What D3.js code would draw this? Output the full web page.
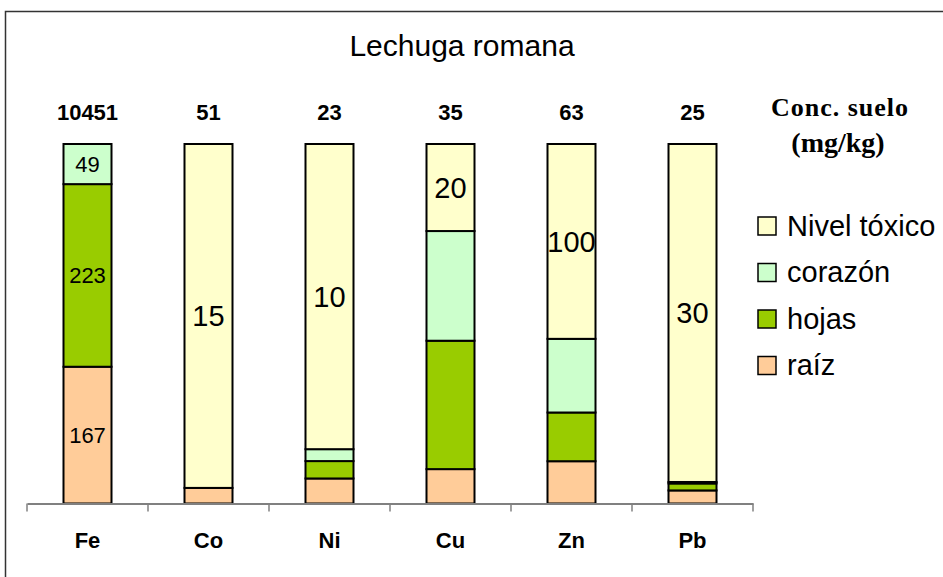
<!DOCTYPE html>
<html>
<head>
<meta charset="utf-8">
<script src="https://cdn.jsdelivr.net/npm/d3@7"></script>
<style>
  html, body { margin: 0; padding: 0; background: #fff; }
  svg { display: block; }
</style>
</head>
<body>
<svg id="chart" width="943" height="577"></svg>
<script>
// Metals analysed and their soil concentration (mg/kg)
const categories = ["Fe", "Co", "Ni", "Cu", "Zn", "Pb"];
const soilConc = [10451, 51, 23, 35, 63, 25];

// Concentration in each part of the lettuce, plus the toxic level
const raiz        = [167, 0.68, 0.82, 7.9, 21.7, 1.16];
const hojas       = [223, 0, 0.57, 29.5, 25.0, 0.62];
const corazon     = [49, 0, 0.39, 25.2, 37.8, 0.13];
const nivelToxico = [0, 15, 10, 20, 100, 30];

const seriesKeys   = ["raíz", "hojas", "corazón", "Nivel tóxico"];
const seriesColors = ["#FFCC99", "#99CC00", "#CCFFCC", "#FFFFCC"];
const legendOrder  = ["Nivel tóxico", "corazón", "hojas", "raíz"];

const rows = categories.map((c, i) => ({
  cat: c,
  "raíz": raiz[i],
  "hojas": hojas[i],
  "corazón": corazon[i],
  "Nivel tóxico": nivelToxico[i]
}));

const svg = d3.select("#chart");
const W = 943, H = 577;

// outer chart frame
svg.append("rect")
  .attr("x", 5.5).attr("y", 11.5)
  .attr("width", W + 20).attr("height", H + 20)
  .attr("fill", "#fff")
  .attr("stroke", "#333").attr("stroke-width", 1.5);

// title
svg.append("text")
  .attr("x", 462).attr("y", 56)
  .attr("text-anchor", "middle")
  .attr("font-family", "Liberation Sans, Arial, sans-serif")
  .attr("font-size", 30)
  .text("Lechuga romana");

const x = d3.scaleBand().domain(categories).range([27, 753]).paddingInner(0).paddingOuter(0);
const y = d3.scaleLinear().domain([0, 1]).range([503.5, 144]);
const color = d3.scaleOrdinal().domain(seriesKeys).range(seriesColors);

const stack = d3.stack().keys(seriesKeys).offset(d3.stackOffsetExpand);
const stacked = stack(rows);

const barW = 48;

const layers = svg.append("g").selectAll("g")
  .data(stacked).join("g")
  .attr("fill", d => color(d.key));

layers.selectAll("rect")
  .data(d => d.map(v => ({ v, key: d.key })))
  .join("rect")
  .filter(d => d.v[1] - d.v[0] > 0)
  .attr("x", d => x(d.v.data.cat) + x.bandwidth() / 2 - barW / 2)
  .attr("y", d => y(d.v[1]))
  .attr("width", barW)
  .attr("height", d => y(d.v[0]) - y(d.v[1]))
  .attr("stroke", "#000")
  .attr("stroke-width", 2);

// value labels: every toxic level, and the plant parts for Fe
const labels = [];
stacked.forEach(layer => {
  layer.forEach((v, i) => {
    const val = rows[i][layer.key];
    if (!val) return;
    if (layer.key === "Nivel tóxico" || categories[i] === "Fe") {
      labels.push({ v, val, key: layer.key });
    }
  });
});

svg.append("g").selectAll("text")
  .data(labels).join("text")
  .attr("x", d => x(d.v.data.cat) + x.bandwidth() / 2)
  .attr("y", d => {
    const fs = d.key === "Nivel tóxico" ? 29 : 22;
    return (y(d.v[0]) + y(d.v[1])) / 2 + fs * 0.35;
  })
  .attr("text-anchor", "middle")
  .attr("font-family", "Liberation Sans, Arial, sans-serif")
  .attr("font-size", d => d.key === "Nivel tóxico" ? 29 : 22)
  .text(d => d.val);

// soil concentrations above each bar
svg.append("g").selectAll("text")
  .data(categories).join("text")
  .attr("x", d => x(d) + x.bandwidth() / 2)
  .attr("y", 119.5)
  .attr("text-anchor", "middle")
  .attr("font-family", "Liberation Sans, Arial, sans-serif")
  .attr("font-weight", "bold")
  .attr("font-size", 22)
  .text((d, i) => soilConc[i]);

const headFont = "Liberation Serif, Times New Roman, serif";
svg.append("text")
  .attr("x", 840).attr("y", 116)
  .attr("text-anchor", "middle")
  .attr("font-family", headFont).attr("font-weight", "bold")
  .attr("font-size", 26).attr("letter-spacing", 1)
  .text("Conc. suelo");
svg.append("text")
  .attr("x", 838).attr("y", 152)
  .attr("text-anchor", "middle")
  .attr("font-family", headFont).attr("font-weight", "bold")
  .attr("font-size", 28)
  .text("(mg/kg)");

// category axis
const axisY = 503.5;
const axisG = svg.append("g")
  .attr("transform", `translate(0,${axisY})`)
  .call(d3.axisBottom(x).tickSize(0).tickPadding(29));
axisG.select(".domain").attr("stroke", "#808080").attr("stroke-width", 2);
axisG.selectAll(".tick text")
  .attr("font-family", "Liberation Sans, Arial, sans-serif")
  .attr("font-weight", "bold")
  .attr("font-size", 22)
  .attr("fill", "#000");

// tick marks on the band boundaries
const bounds = categories.map(c => x(c)).concat([x.range()[1]]);
axisG.selectAll("line.bound")
  .data(bounds).join("line")
  .attr("class", "bound")
  .attr("x1", d => d).attr("x2", d => d)
  .attr("y1", 0).attr("y2", 8)
  .attr("stroke", "#808080").attr("stroke-width", 1.5);

// legend
const legend = svg.append("g").selectAll("g")
  .data(legendOrder).join("g")
  .attr("transform", (d, i) => `translate(758,${217 + i * 46.5})`);
legend.append("rect")
  .attr("width", 18).attr("height", 18)
  .attr("fill", d => color(d))
  .attr("stroke", "#000").attr("stroke-width", 1.5);
legend.append("text")
  .attr("x", 29).attr("y", 18.5)
  .attr("font-family", "Liberation Sans, Arial, sans-serif")
  .attr("font-size", 29)
  .text(d => d);
</script>
</body>
</html>
